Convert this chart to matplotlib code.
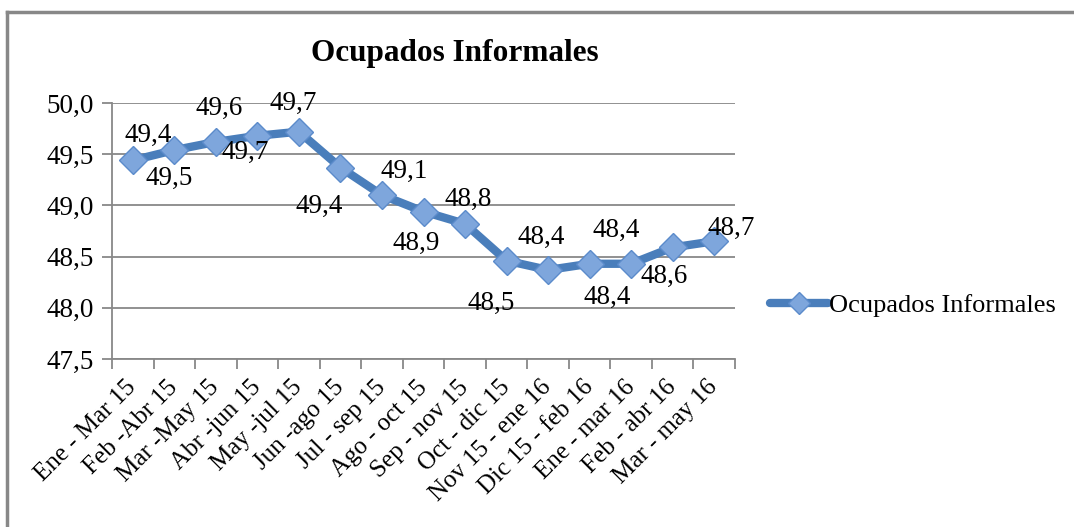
import matplotlib.pyplot as plt
from matplotlib.lines import Line2D

# periodos (trimestres moviles)
periodos = ['Ene - Mar 15', 'Feb -Abr 15', 'Mar -May 15', 'Abr -jun 15', 'May -jul 15',
            'Jun -ago 15', 'Jul - sep 15', 'Ago - oct 15', 'Sep - nov 15', 'Oct - dic 15',
            'Nov 15 - ene 16', 'Dic 15 - feb 16', 'Ene - mar 16', 'Feb - abr 16', 'Mar - may 16']
informales = [49.44, 49.54, 49.62, 49.68, 49.72, 49.37, 49.10, 48.94, 48.82,
              48.46, 48.37, 48.43, 48.43, 48.59, 48.65]
etiquetas = ['49,4', '49,5', '49,6', '49,7', '49,7', '49,4', '49,1', '48,9', '48,8',
             '48,5', '48,4', '48,4', '48,4', '48,6', '48,7']
y_ticks = [47.5, 48.0, 48.5, 49.0, 49.5, 50.0]

# desplazamiento de las etiquetas (pixeles, x derecha, y arriba)
offsets = [(15, 25), (-5, -28), (3, 34), (-12, -17), (-6, 28), (-21, -39), (22, 24), (-7, -32),
           (3, 24), (-15, -43), (-7, 33), (18, -34), (-15, 33), (-9, -29), (17, 13)]

plt.rcParams['font.family'] = 'Liberation Serif'
fs = 19.5

fig = plt.figure(figsize=(10.74, 5.27), dpi=100)
ax = fig.add_axes([112/1074, 1-359/527, 623/1074, 256/527])

azul = '#4A7EBB'
x = list(range(len(periodos)))
ax.plot(x, informales, color=azul, lw=6, marker='D', ms=14,
        mfc='#7EA6DC', mec='#5B8BCB', mew=1, zorder=3, solid_capstyle='round')

for xi, yi, t, (dx, dy) in zip(x, informales, etiquetas, offsets):
    ax.annotate(t, (xi, yi), xytext=(dx*0.72, dy*0.72), textcoords='offset points',
                ha='center', va='center', fontsize=fs, color='black', zorder=4)

ax.set_xlim(-0.5, len(periodos)-0.5)
ax.set_ylim(47.5, 50.0)
ax.set_yticks(y_ticks)
ax.set_yticklabels([f'{v:.1f}'.replace('.', ',') for v in y_ticks], fontsize=fs)
ax.yaxis.grid(True, color='#888888', lw=1.3)
ax.set_axisbelow(True)

ax.set_xticks([i-0.5 for i in range(len(periodos)+1)])
ax.set_xticklabels([])
ax.set_xticks(x, minor=True)
ax.set_xticklabels(periodos, minor=True, rotation=45, ha='right', va='center',
                   rotation_mode='anchor', fontsize=18)
ax.tick_params(axis='x', which='minor', length=0, pad=18)
ax.tick_params(axis='x', which='major', length=7, color='#888888', width=1.3)
ax.tick_params(axis='y', length=7, color='#888888', width=1.3, pad=6)

for s in ['top', 'right']:
    ax.spines[s].set_visible(False)
for s in ['left', 'bottom']:
    ax.spines[s].set_color('#888888')
    ax.spines[s].set_linewidth(1.3)

fig.text(455/1074, 1-53/527, 'Ocupados Informales', ha='center', va='center',
         fontsize=22.5, fontweight='bold')

h = Line2D([], [], color=azul, lw=6, marker='D', ms=11, mfc='#7EA6DC', mec='#5B8BCB',
           solid_capstyle='round')
fig.legend([h], ['Ocupados Informales'], loc='center left', bbox_to_anchor=(770/1074, 1-305/527),
           frameon=False, fontsize=19, handlelength=2.2, handletextpad=0.05, borderaxespad=0,
           borderpad=0)

# marco del grafico
fig.add_artist(Line2D([7/1074, 7/1074], [0, 1-12/527], color='#888888', lw=2.5))
fig.add_artist(Line2D([7/1074, 1073/1074], [1-12/527, 1-12/527], color='#888888', lw=2.5))

fig.savefig('out.png', dpi=100)
